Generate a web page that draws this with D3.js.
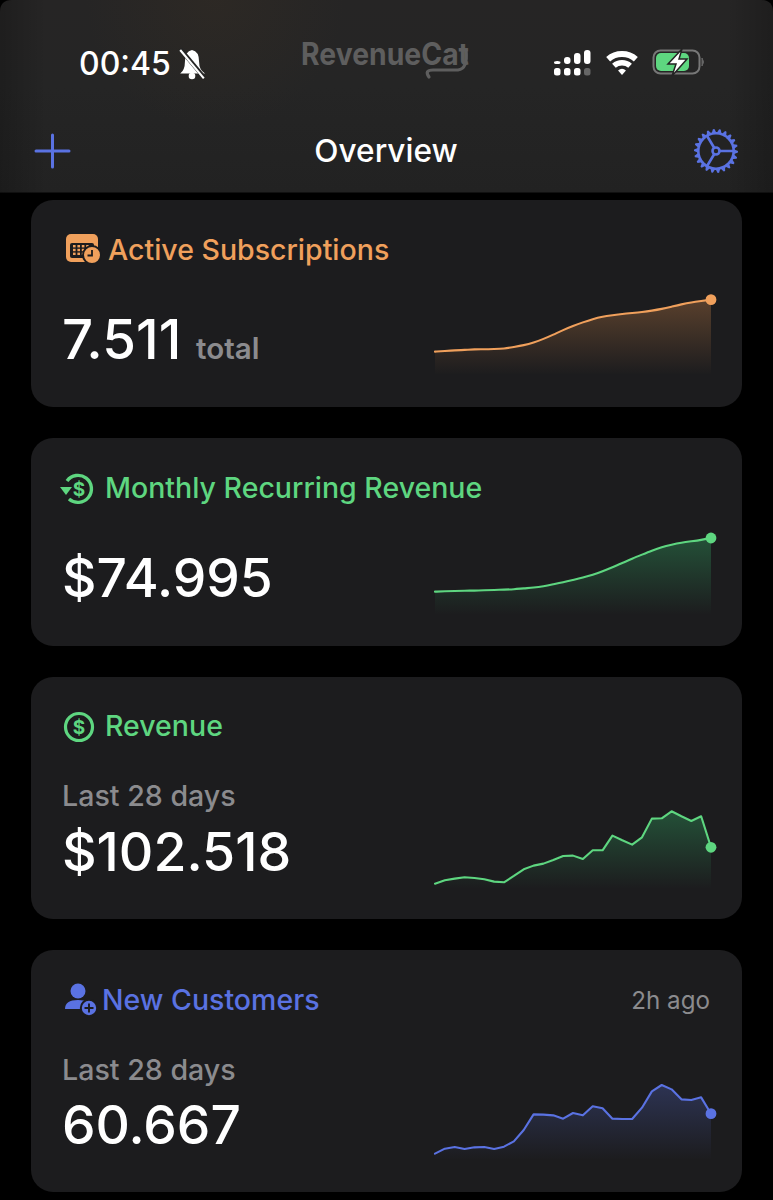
<!DOCTYPE html>
<html><head><meta charset="utf-8">
<script src="https://cdnjs.cloudflare.com/ajax/libs/d3/7.8.5/d3.min.js"></script>
<style>html,body{margin:0;padding:0;background:#000}svg{display:block}text{font-family:Inter,"Noto Sans",sans-serif}</style>
</head><body><svg id="c" width="773" height="1200" viewBox="0 0 773 1200"></svg>
<script>
const days = d3.range(0, 29);
const activeSubs = [2210,2278,2346,2380,2448,2448,2482,2516,2686,2856,3128,3502,3944,4420,4828,5202,5542,5780,5916,6052,6154,6256,6392,6562,6800,7040,7242,7378,7511];
const mrr = [21580,21912,22244,22576,22576,22908,23240,23572,23904,24900,25564,26892,28884,30876,33200,35524,38180,41832,45816,50132,54448,58432,62416,66068,68392,70384,71712,73040,74995];
const revenue = [490,840,1015,1155,1085,945,700,630,1295,1995,2380,2590,2975,3395,3430,3080,3990,3990,5530,5040,4585,5355,7315,7350,8085,7560,7070,7560,4305];
const customers = [342,612,702,594,684,702,594,720,1008,1620,2466,2448,2412,2232,2538,2412,2898,2790,2232,2214,2214,2826,3708,4050,3816,3276,3240,3384,2502];
const titles = ["Active Subscriptions","Monthly Recurring Revenue","Revenue","New Customers"];
const bigValues = ["7.511","$74.995","$102.518","60.667"];

const ORANGE="#f0a05c", GREEN="#5ed680", BLUE="#5a72e2", CARD="#1c1c1e";
const svg=d3.select("#c");
const defs=svg.append("defs");
svg.append("rect").attr("width",773).attr("height",1200).attr("fill","#000");

// header
const hg=defs.append("linearGradient").attr("id","hdr").attr("x1",0).attr("x2",0).attr("y1",0).attr("y2",1);
hg.append("stop").attr("offset",0).attr("stop-color","#262525");
hg.append("stop").attr("offset",.45).attr("stop-color","#252525");
hg.append("stop").attr("offset",1).attr("stop-color","#222222");
const hs=defs.append("linearGradient").attr("id","hdrSide");
hs.append("stop").attr("offset",0).attr("stop-color","#000").attr("stop-opacity",.2);
hs.append("stop").attr("offset",.06).attr("stop-color","#000").attr("stop-opacity",0);
hs.append("stop").attr("offset",.94).attr("stop-color","#000").attr("stop-opacity",0);
hs.append("stop").attr("offset",1).attr("stop-color","#000").attr("stop-opacity",.2);
const hw=defs.append("radialGradient").attr("id","hdrWarm").attr("gradientUnits","userSpaceOnUse").attr("cx",215).attr("cy",0).attr("r",130);
hw.append("stop").attr("offset",0).attr("stop-color","#5a4020").attr("stop-opacity",.13);
hw.append("stop").attr("offset",1).attr("stop-color","#5a4020").attr("stop-opacity",0);
const hdrPath="M0 12Q0 0 12 0H761Q773 0 773 12V192.5H0Z";
svg.append("path").attr("d",hdrPath).attr("fill","url(#hdr)");
svg.append("path").attr("d",hdrPath).attr("fill","url(#hdrWarm)");
svg.append("path").attr("d",hdrPath).attr("fill","url(#hdrSide)");

const T=(x,y,s,size,fill,w,anchor)=>svg.append("text").attr("x",x).attr("y",y).text(s)
  .attr("font-size",size).attr("fill",fill).attr("font-weight",w||500).attr("text-anchor",anchor||"start");

T(79,75,"00:45",32,"#fff",500);
T(386,162,"Overview",31.6,"#fff",500,"middle");
T(301,65,"RevenueCat",31,"#5e5e5e",700).attr("textLength",168).attr("lengthAdjust","spacingAndGlyphs");
svg.append("path").attr("d","M429 77Q424 70 433 70H458Q468 69 466 50").attr("fill","none").attr("stroke","#5e5e5e").attr("stroke-width",3.2).attr("stroke-linecap","round");

// bell with slash
const bell=svg.append("g").attr("transform","translate(192,63) scale(1.18)");
bell.append("path").attr("d","M-10 9Q-6 6 -6 -1Q-6 -10 0 -11Q6 -10 6 -1Q6 6 11 9Z").attr("fill","#fff");
bell.append("circle").attr("cy",11).attr("r",2.8).attr("fill","#fff");
bell.append("line").attr("x1",-10).attr("y1",-12).attr("x2",10).attr("y2",12).attr("stroke","#252525").attr("stroke-width",3.6);
bell.append("line").attr("x1",-10).attr("y1",-11).attr("x2",10).attr("y2",13).attr("stroke","#fff").attr("stroke-width",1.8);

// signal: two rows of dots
const sigX=[555,565,575,585], sigTop=[61,57,53,50];
sigX.forEach((x,i)=>{
  svg.append("rect").attr("x",x-1).attr("y",sigTop[i]).attr("width",6.5).attr("height",64-sigTop[i]).attr("rx",3).attr("fill","#fff");
  svg.append("rect").attr("x",x-1).attr("y",68).attr("width",6.5).attr("height",7.5).attr("rx",2.5).attr("fill",i==3?"#666":"#fff");
});
// wifi
const wifi=svg.append("g").attr("transform","translate(622,75)");
const arc=d3.arc().startAngle(-0.72).endAngle(0.72);
[[0,6],[9.5,15],[18,24]].forEach(([a,b])=>wifi.append("path").attr("d",arc({innerRadius:a,outerRadius:b})).attr("fill","#fff"));
// battery
svg.append("rect").attr("x",653.5).attr("y",50.5).attr("width",46).attr("height",23).attr("rx",7).attr("fill","none").attr("stroke","#777").attr("stroke-width",2);
svg.append("rect").attr("x",656).attr("y",53).attr("width",33).attr("height",18).attr("rx",5).attr("fill",GREEN);
svg.append("path").attr("d","M702 58Q705 62 702 66Z").attr("fill","#666").attr("stroke","#666");
svg.append("path").attr("d","M682 49L668 64H676L672 76L687 59H679Z").attr("fill","#fff").attr("stroke","#232323").attr("stroke-width",1.5);

// plus
svg.append("path").attr("d","M52.5 135V167M36 151H69").attr("stroke",BLUE).attr("stroke-width",3).attr("stroke-linecap","round").attr("fill","none");
// gear
const gear=svg.append("g").attr("transform","translate(716,151)").attr("fill","none").attr("stroke",BLUE);
const nTeeth=22;
const gearPts=d3.range(nTeeth*4).map(i=>{const a=i*Math.PI/(nTeeth*2),r=(i%4<2)?22:19;return [r*Math.cos(a),r*Math.sin(a)];});
gear.append("path").attr("d",d3.line()(gearPts)+"Z").attr("fill",BLUE).attr("stroke","none");
gear.append("circle").attr("r",16.4).attr("fill","#232323").attr("stroke","none");
gear.append("circle").attr("r",3.5).attr("stroke-width",2.6);
gear.append("path").attr("d","M3.5 0H18M-1.7 -3L-9.5 -16M-1.7 3L-9.5 16").attr("stroke-width",2.6);

// cards
const cards=[
 {y:200,h:207,col:ORANGE,fill:"#e8944f",op:.3,data:activeSubs,max:8000,base:375,ht:78.4,off:1.7,curve:d3.curveBasis,tx:108,ty:260},
 {y:438,h:208,col:GREEN,fill:"#35c06f",op:.32,data:mrr,max:80000,base:615,ht:80.3,off:1.7,curve:d3.curveBasis,tx:105,ty:498},
 {y:677,h:242,col:GREEN,fill:"#35c06f",op:.32,data:revenue,max:8000,base:889,ht:76.2,off:.7,curve:d3.curveLinear,tx:105,ty:736},
 {y:950,h:242,col:BLUE,fill:"#5a72e2",op:.27,data:customers,max:4000,base:1160,ht:74.07,off:0,curve:d3.curveLinear,tx:102,ty:1010}
];
const x=d3.scaleLinear().domain([0,28]).range([435,711]);
cards.forEach((c,i)=>{
  svg.append("rect").attr("x",31).attr("y",c.y).attr("width",711).attr("height",c.h).attr("rx",22).attr("fill",CARD);
  T(c.tx,c.ty,titles[i],28.5,c.col,500);
  const y=d3.scaleLinear().domain([0,c.max]).range([c.base-c.off,c.base-c.off-c.ht]);
  const g=defs.append("linearGradient").attr("id","ag"+i).attr("x1",0).attr("x2",0).attr("y1",0).attr("y2",1);
  g.append("stop").attr("offset",0).attr("stop-color",c.fill).attr("stop-opacity",c.op);
  g.append("stop").attr("offset",1).attr("stop-color",c.fill).attr("stop-opacity",0);
  svg.append("path").datum(c.data).attr("fill",`url(#ag${i})`)
    .attr("d",d3.area().x((d,j)=>x(days[j])).y0(c.base).y1(d=>y(d)).curve(c.curve));
  svg.append("path").datum(c.data).attr("fill","none").attr("stroke",c.col).attr("stroke-width",2.1).attr("stroke-linejoin","round").attr("stroke-linecap","round")
    .attr("d",d3.line().x((d,j)=>x(days[j])).y(d=>y(d)).curve(c.curve));
  svg.append("circle").attr("cx",x(28)).attr("cy",y(c.data[28])).attr("r",5.4).attr("fill",c.col);
});

// big numbers
T(62,359,bigValues[0],54.6,"#fff",500);
T(196,359,"total",29.6,"#8b8b8e",600);
T(62,597,bigValues[1],53.3,"#fff",500);
T(62,871,bigValues[2],53.6,"#fff",500);
T(62,1144,bigValues[3],53.3,"#fff",500);
T(62,806,"Last 28 days",28.6,"#8b8b8e",500);
T(62,1080,"Last 28 days",28.6,"#8b8b8e",500);
T(710,1009,"2h ago",24.2,"#8b8b8e",400,"end");

// card icons
const ic1=svg.append("g");
ic1.append("rect").attr("x",66).attr("y",234).attr("width",32).attr("height",28).attr("rx",5).attr("fill",ORANGE);
ic1.append("rect").attr("x",70).attr("y",243).attr("width",24).attr("height",15).attr("rx",2).attr("fill",CARD);
[0,1,2,3].forEach(a=>[0,1,2].forEach(b=>ic1.append("rect").attr("x",73+a*4.4).attr("y",245+b*3.8).attr("width",2.6).attr("height",2.4).attr("fill",ORANGE)));
ic1.append("circle").attr("cx",92).attr("cy",255).attr("r",9).attr("fill",ORANGE).attr("stroke",CARD).attr("stroke-width",2);
ic1.append("path").attr("d","M92 250V255.5H87.5").attr("stroke",CARD).attr("stroke-width",1.8).attr("fill","none");

const ic2=svg.append("g").attr("transform","translate(78,489)");
ic2.append("path").attr("d","M-11 -8A13.5 13.5 0 1 1 -9 10").attr("fill","none").attr("stroke",GREEN).attr("stroke-width",3.4);
ic2.append("path").attr("d","M-18 -2H-6L-12 6Z").attr("fill",GREEN);
ic2.append("text").attr("x",1).attr("y",7).attr("text-anchor","middle").attr("font-size",19).attr("font-weight",700).attr("fill",GREEN).text("$");

const ic3=svg.append("g").attr("transform","translate(79,727)");
ic3.append("circle").attr("r",13.5).attr("fill","none").attr("stroke",GREEN).attr("stroke-width",3.2);
ic3.append("text").attr("y",7).attr("text-anchor","middle").attr("font-size",19).attr("font-weight",700).attr("fill",GREEN).text("$");

const ic4=svg.append("g");
ic4.append("circle").attr("cx",78).attr("cy",991).attr("r",7.5).attr("fill",BLUE);
ic4.append("path").attr("d","M65 1009Q65 1000 78 1000Q90 1000 90 1009Z").attr("fill",BLUE);
ic4.append("circle").attr("cx",89).attr("cy",1008).attr("r",8.2).attr("fill",BLUE).attr("stroke",CARD).attr("stroke-width",2);
ic4.append("path").attr("d","M89 1003.5V1012.5M84.5 1008H93.5").attr("stroke",CARD).attr("stroke-width",1.9);
</script></body></html>
